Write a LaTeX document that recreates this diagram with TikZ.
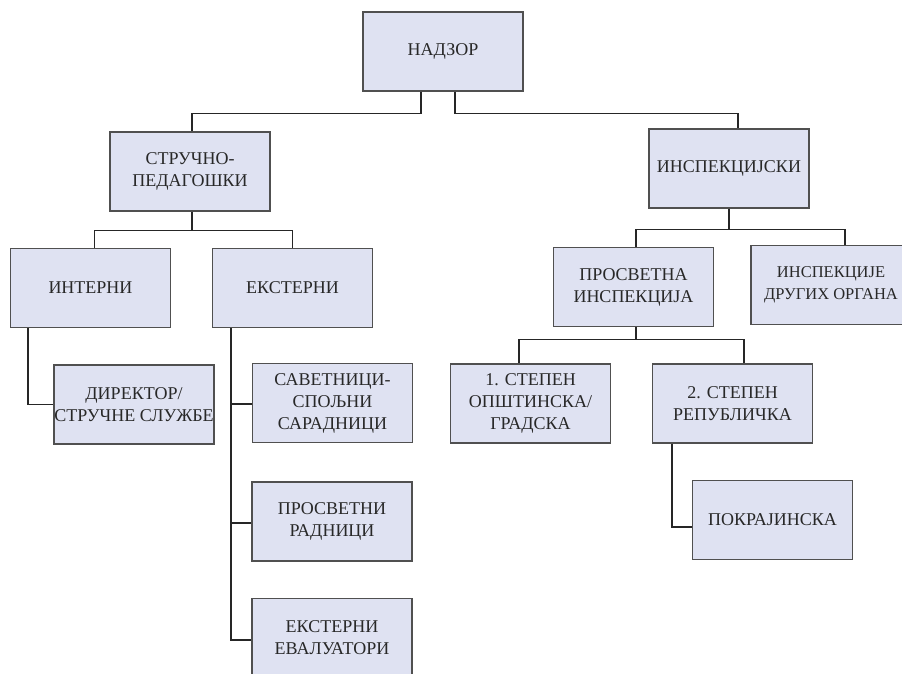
\documentclass[tikz,border=0pt]{standalone}
\usepackage{fontspec}
\setmainfont{Liberation Serif}
\definecolor{boxfill}{RGB}{223,226,242}
\definecolor{boxline}{RGB}{80,80,80}
\definecolor{txt}{RGB}{40,40,40}

\begin{document}
\begin{tikzpicture}[x=1pt, y=-1pt,
        unit/.style={draw=boxline, fill=boxfill, line width=1.1pt, minimum width=160pt, minimum height=79pt,
            inner sep=0pt, align=center, text=txt, font=\fontsize{18}{22}\selectfont},
        link/.style={draw=black!85, line width=1.1pt}]
    \useasboundingbox (0, 0) rectangle (902, 674);
    \begin{scope}
        \clip (0, 0) rectangle (902, 674);
        % levels
        \node[unit] (nadzor) at (443, 51.5) {НАДЗОР};
        \node[unit] (strucno) at (190, 171.5) {СТРУЧНО-\\ПЕДАГОШКИ};
        \node[unit] (inspek) at (729, 168.5) {ИНСПЕКЦИЈСКИ};
        \node[unit] (interni) at (90.5, 288) {ИНТЕРНИ};
        \node[unit] (eksterni) at (292.5, 288) {ЕКСТЕРНИ};
        \node[unit] (direktor) at (134, 404.5) {ДИРЕКТОР/\\СТРУЧНЕ СЛУЖБЕ};
        \node[unit] (savetnici) at (332.5, 403) {САВЕТНИЦИ-\\СПОЉНИ\\САРАДНИЦИ};
        \node[unit] (radnici) at (332, 521.5) {ПРОСВЕТНИ\\РАДНИЦИ};
        \node[unit] (evaluatori) at (332, 638) {ЕКСТЕРНИ\\ЕВАЛУАТОРИ};
        \node[unit] (prosvinsp) at (633.5, 287) {ПРОСВЕТНА\\ИНСПЕКЦИЈА};
        \node[unit, font=\fontsize{16.5}{22}\selectfont] (drugi) at (831, 285) {ИНСПЕКЦИЈЕ\\ДРУГИХ ОРГАНА};
        \node[unit] (stepenA) at (530.5, 403.5) {1. СТЕПЕН\\ОПШТИНСКА/\\ГРАДСКА};
        \node[unit] (stepenB) at (732.5, 403.5) {2. СТЕПЕН\\РЕПУБЛИЧКА};
        \node[unit] (pokr) at (772.5, 520) {ПОКРАЈИНСКА};

        % tree lines
        \draw[link] ([xshift=-22pt]nadzor.south) -- ++(0, -22pt) -| ([xshift=2pt]strucno.north);
        \draw[link] ([xshift=12pt]nadzor.south) -- ++(0, -22pt) -| ([xshift=9pt]inspek.north);
        \draw[link] ([xshift=2pt]strucno.south) -- ++(0, -19pt) -| ([xshift=4pt]interni.north);
        \draw[link] ([xshift=2pt]strucno.south) -- ++(0, -19pt) -| (eksterni.north);
        \draw[link] (inspek.south) -- ++(0, -21pt) -| ([xshift=2.5pt]prosvinsp.north);
        \draw[link] (inspek.south) -- ++(0, -21pt) -| ([xshift=14pt]drugi.north);
        \draw[link] ([xshift=2.5pt]prosvinsp.south) -- ++(0, -12pt) -| ([xshift=-11.5pt]stepenA.north);
        \draw[link] ([xshift=2.5pt]prosvinsp.south) -- ++(0, -12pt) -| ([xshift=11.5pt]stepenB.north);
        \draw[link] ([xshift=-62.5pt]interni.south) |- (direktor.west);
        \draw[link] ([xshift=-60.5pt]stepenB.south) |- ([yshift=-7pt]pokr.west);
        \coordinate (ekst) at ([xshift=-61.5pt]eksterni.south);
        \foreach \cName/\cShift in {savetnici/1, radnici/1.5, evaluatori/2}
            \draw[link] (ekst) |- ([yshift=-\cShift pt]\cName.west);
    \end{scope}
\end{tikzpicture}
\end{document}
